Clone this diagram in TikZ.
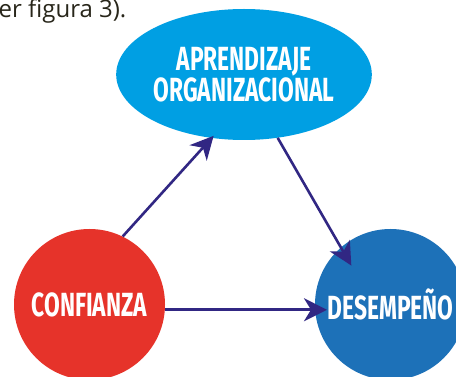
\documentclass[tikz,border=0pt]{standalone}
\usepackage{fontspec}
\usetikzlibrary{shapes.geometric,arrows.meta}
\newfontfamily\labfont[FakeStretch=0.68]{Fira Sans}
\newfontfamily\bodyfont{Open Sans}
\definecolor{cyanA}{HTML}{009FE3}
\definecolor{redA}{HTML}{E6332A}
\definecolor{blueA}{HTML}{1D71B8}
\definecolor{arrowA}{HTML}{312783}
\definecolor{textA}{HTML}{28261A}
\tikzset{
  lab/.style={text=white, inner sep=0pt, align=center,
    font=\labfont\bfseries\fontsize{33.5}{31}\selectfont},
  bubble/.style={circle, minimum size=151pt, lab},
  arr/.style={draw=arrowA, line width=2.6pt,
    -{Stealth[length=23pt, width=23pt, inset=7pt]}}
}
\begin{document}
\begin{tikzpicture}[x=1pt,y=-1pt]
\useasboundingbox (0,0) rectangle (456,377);
\clip (0,0) rectangle (456,377);
\fill[white] (0,0) rectangle (456,377);
\node[anchor=base west, text=textA, inner sep=0pt,
  font=\bodyfont\fontsize{24}{28}\selectfont] (cap) at (-1.5,17.5) {er figura 3).};
\node[ellipse, fill=cyanA, minimum width=214pt, minimum height=131pt, lab]
  (org) at (244,74.5) {APRENDIZAJE\\ORGANIZACIONAL};
\node[bubble, fill=redA] (conf) at (89.5,304.5) {CONFIANZA};
\node[bubble, fill=blueA] (des) at (390.5,304.5) {DESEMPEÑO};
\draw[arr, shorten >=-3pt] (conf.64.6) -- (org.243.5);
\draw[arr, shorten >=-21pt] (org.298) -- (des.131.8);
\draw[arr, shorten >=-12pt] (conf.-4.2) -- (des.184.2);
\end{tikzpicture}
\end{document}
